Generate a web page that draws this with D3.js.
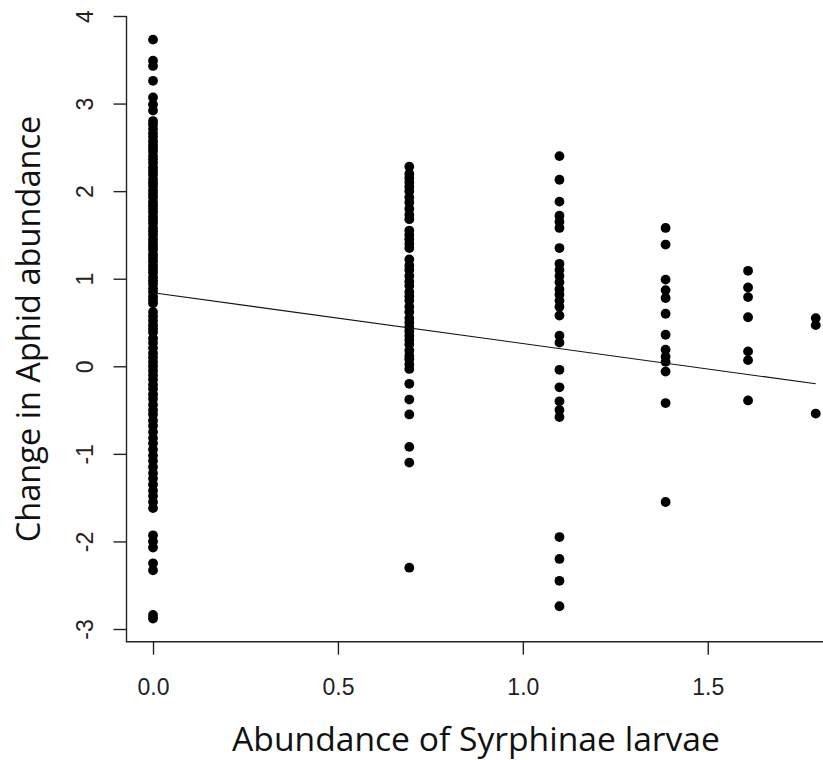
<!DOCTYPE html>
<html>
<head>
<meta charset="utf-8">
<script src="https://cdn.jsdelivr.net/npm/d3@7"></script>
<style>
  html, body { margin: 0; padding: 0; background: #fff; }
  svg { display: block; }
</style>
</head>
<body>
<svg id="chart" width="823" height="760"></svg>
<script>
// x categories: log(count + 1) of Syrphinae larvae
const xLevels = [0, 0.693, 1.099, 1.386, 1.609, 1.792];

// change in aphid abundance, one array per x level
const ys0 = [3.73, 3.49, 3.43, 3.26, 3.07, 2.99, 2.92,
  2.80, 2.76, 2.71, 2.66, 2.62, 2.57, 2.53, 2.49, 2.45, 2.40, 2.36, 2.32, 2.27, 2.23, 2.19, 2.14,
  2.10, 2.06, 2.01, 1.97, 1.93, 1.88, 1.84, 1.80, 1.76, 1.71, 1.67, 1.63, 1.58, 1.54, 1.50, 1.45,
  1.41, 1.37, 1.33, 1.28, 1.24, 1.20, 1.15, 1.11, 1.07, 1.02, 0.98, 0.94, 0.89, 0.85, 0.80, 0.76,
  0.72, 0.62, 0.57, 0.52, 0.47, 0.43, 0.39, 0.32, 0.27, 0.21, 0.15, 0.10, 0.05, 0.00, -0.05, -0.10,
  -0.15, -0.21, -0.26, -0.32, -0.37, -0.44, -0.50, -0.55, -0.62, -0.68, -0.75, -0.82, -0.88, -0.95,
  -1.02, -1.08, -1.15, -1.22, -1.28, -1.35, -1.42, -1.48, -1.55, -1.62,
  -1.93, -2.00, -2.07, -2.25, -2.33, -2.84, -2.88];
const ys1 = [2.28, 2.20, 2.15, 2.10, 2.05, 2.00, 1.93, 1.87, 1.80, 1.73, 1.68,
  1.55, 1.50, 1.45, 1.40, 1.35,
  1.22, 1.15, 1.10, 1.03, 0.97, 0.92, 0.85, 0.80, 0.75, 0.68, 0.62, 0.55, 0.50, 0.45, 0.40, 0.35,
  0.30, 0.25, 0.18, 0.12, 0.08, 0.02, -0.03,
  -0.20, -0.38, -0.55, -0.92, -1.10, -2.30];
const ys2 = [2.40, 2.13, 1.88, 1.72, 1.65, 1.58, 1.35, 1.17, 1.10, 1.03, 0.96, 0.88, 0.82, 0.75,
  0.68, 0.58, 0.35, 0.27, -0.04, -0.24, -0.40, -0.50, -0.58, -1.95, -2.20, -2.45, -2.74];
const ys3 = [1.58, 1.39, 0.99, 0.87, 0.78, 0.60, 0.36, 0.19, 0.11, 0.05, -0.06, -0.42, -1.55];
const ys4 = [1.09, 0.90, 0.79, 0.56, 0.17, 0.07, -0.39];
const ys5 = [0.55, 0.47, -0.54];
const seriesY = [ys0, ys1, ys2, ys3, ys4, ys5];

// fitted regression line end points
const fitLine = [{x: 0, y: 0.84}, {x: 1.792, y: -0.20}];

const xTicks = [0, 0.5, 1.0, 1.5];
const xTickLabels = ["0.0", "0.5", "1.0", "1.5"];
const yTicks = [-3, -2, -1, 0, 1, 2, 3, 4];
const yTickLabels = ["-3", "-2", "-1", "0", "1", "2", "3", "4"];

const xTitle = "Abundance of Syrphinae larvae";
const yTitle = "Change in Aphid abundance";

const points = [];
seriesY.forEach((arr, i) => arr.forEach(v => points.push({x: xLevels[i], y: v})));

const svg = d3.select("#chart");
const x = d3.scaleLinear().domain([-0.0717, 1.863]).range([126.5, 842]);
const y = d3.scaleLinear().domain([-3.145, 4.0]).range([641.7, 16]);

const axisColor = "#222";
const tickFont = "'Liberation Sans', Arial, sans-serif";
const titleFont = "'Open Sans', 'Noto Sans', sans-serif";

// L-shaped box
svg.append("path")
  .attr("d", `M${x.range()[0]},${y(4)} V${y.range()[0]} H823`)
  .attr("fill", "none").attr("stroke", axisColor).attr("stroke-width", 1.4);

// Y axis
const yAxis = d3.axisLeft(y).tickValues(yTicks).tickSize(13).tickFormat((d, i) => yTickLabels[i]);
const gy = svg.append("g").attr("transform", `translate(${x.range()[0]},0)`).call(yAxis);
gy.select(".domain").remove();
gy.selectAll(".tick line").attr("stroke", axisColor).attr("stroke-width", 1.4);
gy.selectAll(".tick text")
  .attr("x", null).attr("dy", null)
  .attr("transform", "translate(-34,0) rotate(-90)")
  .attr("text-anchor", "middle")
  .attr("font-family", tickFont).attr("font-size", 23)
  .attr("fill", "#222");

// X axis
const xAxis = d3.axisBottom(x).tickValues(xTicks).tickSize(13).tickFormat((d, i) => xTickLabels[i]);
const gx = svg.append("g").attr("transform", `translate(0,${y.range()[0]})`).call(xAxis);
gx.select(".domain").remove();
gx.selectAll(".tick line").attr("stroke", axisColor).attr("stroke-width", 1.4);
gx.selectAll(".tick text")
  .attr("y", 53).attr("dy", null)
  .attr("font-family", tickFont).attr("font-size", 23)
  .attr("fill", "#222");

// points
svg.append("g").selectAll("circle").data(points).join("circle")
  .attr("cx", d => x(d.x)).attr("cy", d => y(d.y)).attr("r", 4.9)
  .attr("fill", "#000");

// regression line
svg.append("path")
  .datum(fitLine)
  .attr("d", d3.line().x(d => x(d.x)).y(d => y(d.y)))
  .attr("fill", "none").attr("stroke", "#111").attr("stroke-width", 1.1);

// titles
const xt = svg.append("text").text(xTitle)
  .attr("x", 476).attr("y", 751).attr("text-anchor", "middle")
  .attr("font-family", titleFont).attr("font-size", 30).attr("fill", "#111");
const xw = xt.node().getComputedTextLength();
xt.attr("font-size", 30 * 488 / xw);

const yt = svg.append("text").text(yTitle)
  .attr("transform", "translate(40,329) rotate(-90)").attr("text-anchor", "middle")
  .attr("font-family", titleFont).attr("font-size", 30).attr("fill", "#111");
const yw = yt.node().getComputedTextLength();
yt.attr("font-size", 30 * 427 / yw);
</script>
</body>
</html>
